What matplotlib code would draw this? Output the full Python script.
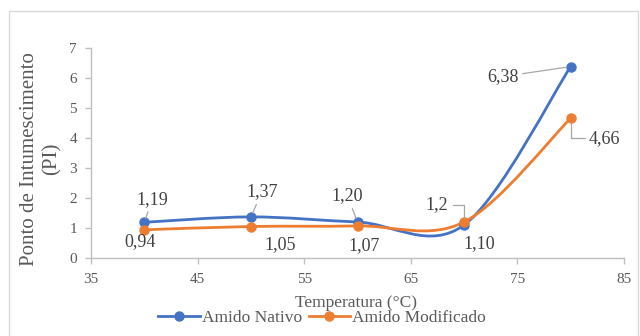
import matplotlib
matplotlib.use("Agg")
import matplotlib.pyplot as plt
from matplotlib.path import Path
from matplotlib.patches import PathPatch, Rectangle
from matplotlib.lines import Line2D

plt.rcParams["font.family"] = ["Liberation Serif", "DejaVu Serif"]

temperatura = [40, 50, 60, 70, 80]
nativo = [1.19, 1.37, 1.20, 1.10, 6.38]
modificado = [0.94, 1.05, 1.07, 1.2, 4.66]
nativo_labels = ["1,19", "1,37", "1,20", "1,10", "6,38"]
modificado_labels = ["0,94", "1,05", "1,07", "1,2", "4,66"]

BLUE = "#4472C4"
ORANGE = "#ED7D31"
GRID = "#BFBFBF"
TXT = "#595959"
LBL = "#404040"


def smooth_path(xs, ys):
    """Excel-style smoothed line: cubic Bezier through the points (Catmull-Rom, 1/6)."""
    pts = list(zip(xs, ys))
    verts = [pts[0]]
    codes = [Path.MOVETO]
    n = len(pts)
    for i in range(n - 1):
        p0 = pts[i - 1] if i > 0 else pts[i]
        p1, p2 = pts[i], pts[i + 1]
        p3 = pts[i + 2] if i + 2 < n else pts[i + 1]
        c1 = (p1[0] + (p2[0] - p0[0]) / 6, p1[1] + (p2[1] - p0[1]) / 6)
        c2 = (p2[0] - (p3[0] - p1[0]) / 6, p2[1] - (p3[1] - p1[1]) / 6)
        verts += [c1, c2, p2]
        codes += [Path.CURVE4] * 3
    return Path(verts, codes)


fig = plt.figure(figsize=(6.4, 3.36), dpi=100)
ax = fig.add_axes([91 / 640, 1 - 258 / 336, 533 / 640, 210 / 336])

for ys, col in ((nativo, BLUE), (modificado, ORANGE)):
    ax.add_patch(PathPatch(smooth_path(temperatura, ys), fill=False,
                           edgecolor=col, lw=2.0, capstyle="round", zorder=3))
    ax.plot(temperatura, ys, "o", ms=6.5, color=col, zorder=4)

# data labels (offsets in pixels from the point), leader lines where Excel drew them
lead = dict(arrowstyle="-", color="#A6A6A6", lw=0.9, shrinkA=1, shrinkB=3)
bracket = dict(lead, connectionstyle="angle,angleA=0,angleB=90,rad=0")
nat_off = [(8, 23, lead), (11, 25, lead), (-10, 26, lead), (15, -19, None), (-68, -10, lead)]
mod_off = [(-4, -12, None), (29, -18, None), (7, -20, None), (-27, 17, bracket), (34, -20, bracket)]
for ys, labels, offs in ((nativo, nativo_labels, nat_off), (modificado, modificado_labels, mod_off)):
    for x, y, s, (dx, dy, ap) in zip(temperatura, ys, labels, offs):
        ax.annotate(s, xy=(x, y), xytext=(dx, dy), textcoords="offset pixels",
                    ha="center", va="center", fontsize=13, color=LBL,
                    arrowprops=ap, zorder=5)

ax.set_xlim(35, 85)
ax.set_ylim(0, 7)
ax.set_xticks(range(35, 86, 10))
ax.set_yticks(range(0, 8))
for side in ("top", "right"):
    ax.spines[side].set_visible(False)
for side in ("left", "bottom"):
    ax.spines[side].set_color(GRID)
    ax.spines[side].set_linewidth(1.0)
ax.tick_params(colors=GRID, labelcolor=TXT, labelsize=11, length=4, width=1.0)
ax.tick_params(axis="y", pad=6)
ax.tick_params(axis="x", pad=7)

fig.text(41 / 640, 1 - 159 / 336, "Ponto de Intumescimento\n(PI)", rotation=90,
         ha="center", va="center", fontsize=15, color=TXT, linespacing=1.2)
fig.text(356 / 640, 1 - 303 / 336, "Temperatura (°C)", ha="center", va="center",
         fontsize=12.5, color=TXT)

handles = [Line2D([], [], color=BLUE, lw=2.0, marker="o", ms=6.5),
           Line2D([], [], color=ORANGE, lw=2.0, marker="o", ms=6.5)]
fig.legend(handles, ["Amido Nativo", "Amido Modificado"], ncol=2, frameon=False,
           loc="center", bbox_to_anchor=(322 / 640, 1 - 318 / 336), fontsize=12.5,
           labelcolor=TXT, handlelength=2.4, handletextpad=0.1, columnspacing=0.4,
           borderpad=0, borderaxespad=0)

fig.patches.append(Rectangle((9 / 640, -0.1), 629 / 640, 1.1 - 11 / 336,
                             transform=fig.transFigure, fill=False,
                             edgecolor="#D9D9D9", lw=1.0))

fig.savefig("out.png", dpi=100)
